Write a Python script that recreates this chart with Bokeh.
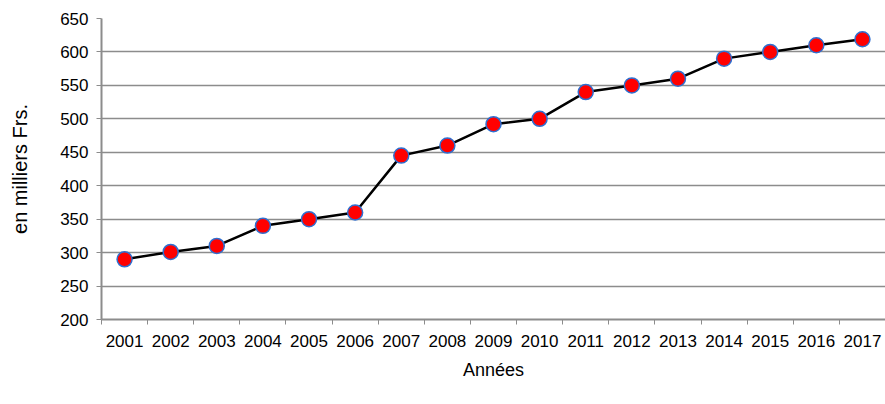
from bokeh.plotting import figure
from bokeh.models import FixedTicker, Range1d
from bokeh.embed import file_html
from bokeh.resources import INLINE

years = [2001, 2002, 2003, 2004, 2005, 2006, 2007, 2008, 2009,
         2010, 2011, 2012, 2013, 2014, 2015, 2016, 2017]
values = [290, 301, 310, 340, 350, 360, 445, 460, 492,
          500, 540, 550, 560, 590, 600, 610, 619]
y_ticks = [200, 250, 300, 350, 400, 450, 500, 550, 600, 650]
x_label = "Années"
y_label = "en milliers Frs."

FONT = "Liberation Sans"
GRID = "#8c8c8c"

p = figure(width=885, height=402, output_backend="svg", toolbar_location=None,
           x_range=Range1d(years[0] - 0.5, years[-1] + 0.5),
           y_range=Range1d(y_ticks[0], y_ticks[-1]),
           min_border_left=101, min_border_right=0, min_border_top=18,
           min_border_bottom=83)
p.outline_line_color = None
p.background_fill_color = "white"

p.line(years, values, line_color="black", line_width=2.5)
p.scatter(years, values, size=15, fill_color="#ff0000",
          line_color="#2f6fd0", line_width=1.5)

# x axis
p.xaxis.ticker = FixedTicker(ticks=years, minor_ticks=[y - 0.5 for y in years])
p.xaxis.major_tick_out = 0
p.xaxis.major_tick_in = 0
p.xaxis.minor_tick_out = 5
p.xaxis.minor_tick_in = 0
p.xaxis.minor_tick_line_color = GRID
p.xaxis.axis_line_color = GRID
p.xaxis.axis_line_width = 2
p.xaxis.major_label_standoff = 10
p.xaxis.axis_label = x_label
p.xaxis.axis_label_standoff = 10
p.xgrid.grid_line_color = None

# y axis
p.yaxis.ticker = FixedTicker(ticks=y_ticks)
p.yaxis.major_tick_out = 5
p.yaxis.major_tick_in = 0
p.yaxis.minor_tick_line_color = None
p.yaxis.major_tick_line_color = GRID
p.yaxis.axis_line_color = GRID
p.yaxis.axis_line_width = 2
p.yaxis.major_label_standoff = 8
p.yaxis.axis_label = y_label
p.yaxis.axis_label_standoff = 26
p.ygrid.ticker = FixedTicker(ticks=y_ticks)
p.ygrid.grid_line_color = GRID
p.ygrid.grid_line_width = 1.5

for ax in (p.xaxis, p.yaxis):
    ax.major_label_text_font = FONT
    ax.major_label_text_font_size = "17px"
    ax.major_label_text_color = "black"
    ax.axis_label_text_font = FONT
    ax.axis_label_text_font_style = "normal"
    ax.axis_label_text_color = "black"
p.xaxis.axis_label_text_font_size = "18px"
p.yaxis.axis_label_text_font_size = "20px"

open("out.html", "w").write(file_html(p, INLINE))
